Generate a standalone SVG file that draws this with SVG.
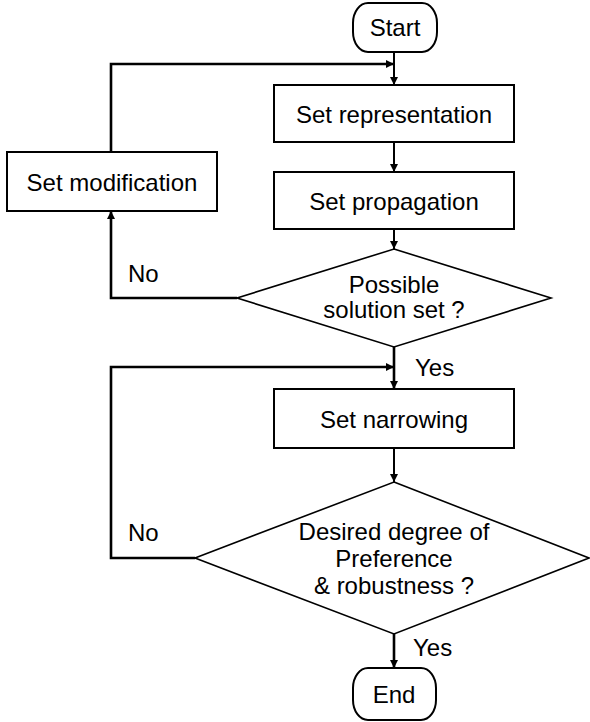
<svg xmlns="http://www.w3.org/2000/svg" width="590" height="722" viewBox="0 0 590 722">
<style>
.box{fill:#fff;stroke:#000;stroke-width:2}
.dia{fill:#fff;stroke:#000;stroke-width:1.6}
.t{font-family:"Liberation Sans",Arial,sans-serif;font-size:24px;fill:#000}
.c{text-anchor:middle}
.ln{fill:none;stroke:#000;stroke-width:2}
.lp{fill:none;stroke:#000;stroke-width:2.6}
</style>
<defs>
<marker id="ah" viewBox="0 0 10 10" refX="10" refY="5" markerWidth="10" markerHeight="8" markerUnits="userSpaceOnUse" orient="auto">
<path d="M0,0 L10,5 L0,10 z" fill="#000"/>
</marker>
</defs>
<g id="connectors">
<line class="ln" x1="394" y1="52" x2="394" y2="85" marker-end="url(#ah)"/>
<line class="ln" x1="394" y1="142" x2="394" y2="172" marker-end="url(#ah)"/>
<line class="ln" x1="394" y1="229" x2="394" y2="249" marker-end="url(#ah)"/>
<polyline class="lp" points="237,298 111,298 111,211" marker-end="url(#ah)"/>
<polyline class="lp" points="111,152 111,64 394,64" marker-end="url(#ah)"/>
<line class="lp" x1="394" y1="347" x2="394" y2="389" marker-end="url(#ah)"/>
<polyline class="lp" points="195,558 111,558 111,367 394,367" marker-end="url(#ah)"/>
<line class="ln" x1="394" y1="448" x2="394" y2="482" marker-end="url(#ah)"/>
<line class="lp" x1="394" y1="634" x2="394" y2="668" marker-end="url(#ah)"/>
<text class="t" x="128" y="282">No</text>
<text class="t" x="415" y="376">Yes</text>
<text class="t" x="128" y="541">No</text>
<text class="t" x="413" y="656">Yes</text>
</g>
<g id="start">
<rect class="box" x="353" y="3" width="84" height="49" rx="15" ry="20"/>
<text class="t c" x="395" y="36">Start</text>
</g>
<g id="set-representation">
<rect class="box" x="274" y="85" width="240" height="57"/>
<text class="t c" x="394" y="123">Set representation</text>
</g>
<g id="set-propagation">
<rect class="box" x="274" y="172" width="240" height="57"/>
<text class="t c" x="394" y="210">Set propagation</text>
</g>
<g id="set-modification">
<rect class="box" x="7" y="152" width="210" height="59"/>
<text class="t c" x="112" y="191">Set modification</text>
</g>
<g id="possible-solution">
<polygon class="dia" points="394,249 551,298 394,347 237,298"/>
<text class="t c" x="394" y="293">Possible</text>
<text class="t c" x="394" y="318">solution set ?</text>
</g>
<g id="set-narrowing">
<rect class="box" x="274" y="389" width="240" height="59"/>
<text class="t c" x="394" y="428">Set narrowing</text>
</g>
<g id="desired-degree">
<polygon class="dia" points="394,482 589,558 394,634 195,558"/>
<text class="t c" x="394" y="540">Desired degree of</text>
<text class="t c" x="394" y="567">Preference</text>
<text class="t c" x="394" y="594">&amp; robustness ?</text>
</g>
<g id="end">
<rect class="box" x="353" y="668" width="83" height="52" rx="15" ry="20"/>
<text class="t c" x="394" y="703">End</text>
</g>
</svg>
